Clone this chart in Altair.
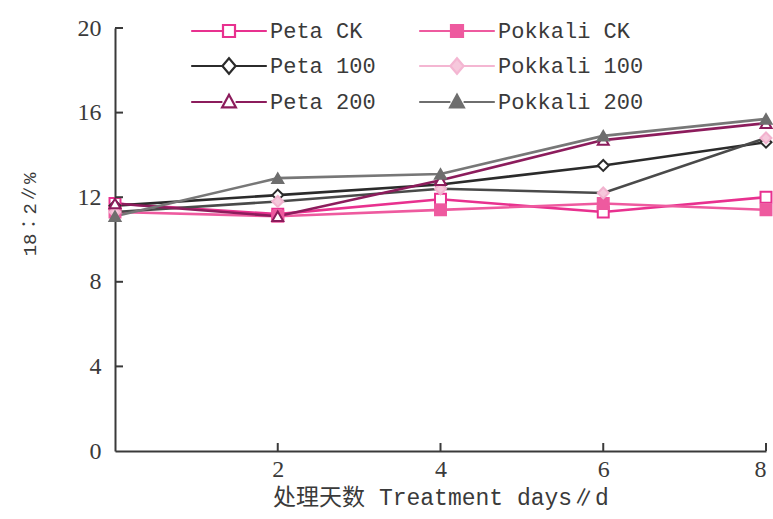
import altair as alt
import pandas as pd

# Treatment days and the 18:2 share (%) for each cultivar / salt level
days = [0, 2, 4, 6, 8]
series_names = ["Peta CK", "Pokkali CK", "Peta 100", "Pokkali 100", "Peta 200", "Pokkali 200"]

peta_ck = [11.7, 11.2, 11.9, 11.3, 12.0]
pokkali_ck = [11.3, 11.1, 11.4, 11.7, 11.4]
peta_100 = [11.6, 12.1, 12.6, 13.5, 14.6]
pokkali_100 = [11.3, 11.8, 12.4, 12.2, 14.8]
peta_200 = [11.7, 11.1, 12.8, 14.7, 15.5]
pokkali_200 = [11.1, 12.9, 13.1, 14.9, 15.7]

x_ticks = [2, 4, 6, 8]
y_ticks = [0, 4, 8, 12, 16, 20]

series_values = [peta_ck, pokkali_ck, peta_100, pokkali_100, peta_200, pokkali_200]
rows = []
for name, vals in zip(series_names, series_values):
    for d, v in zip(days, vals):
        rows.append({"series": name, "day": d, "value": v})
df = pd.DataFrame(rows)

# styling per series
line_colors = ["#e8318f", "#ee5a9f", "#2b2b2b", "#4a4a4a", "#8c1c5c", "#777777"]
marker_strokes = ["#e8318f", "#ee5a9f", "#2b2b2b", "#f2b3cf", "#8c1c5c", "#6e6e6e"]
marker_fills = ["#ffffff", "#ee5a9f", "#ffffff", "#f6c8dc", "#ffffff", "#6e6e6e"]
legend_strokes = ["#e8318f", "#ee5a9f", "#2b2b2b", "#f4b6d2", "#8c1c5c", "#6e6e6e"]
marker_shapes = ["square", "square", "diamond", "diamond", "triangle-up", "triangle-up"]

# legend symbols: a line segment with the marker in the middle
seg = "M-6.3,0H-1.1M1.1,0H6.3"
sq = "M-1,-1H1V1H-1Z"
dia = "M0,-1.3L1.1,0L0,1.3L-1.1,0Z"
tri = "M0,-1.2L1.15,0.9H-1.15Z"
legend_shapes = [seg + sq, seg + sq, seg + dia, seg + dia, seg + tri, seg + tri]

# the legend fills column by column: Peta entries left, Pokkali entries right
legend_order = [0, 2, 4, 1, 3, 5]
lg_names = [series_names[i] for i in legend_order]
lg_shapes = [legend_shapes[i] for i in legend_order]
lg_strokes = [legend_strokes[i] for i in legend_order]
lg_fills = [marker_fills[i] for i in legend_order]

x_scale = alt.Scale(domain=[0, 8], nice=False, zero=False)
y_scale = alt.Scale(domain=[0, 20], nice=False)

serif = "Liberation Serif"
text_color = "#3a3a3a"
axis_color = "#3a3a3a"

base = alt.Chart(df)

lines = base.mark_line(strokeWidth=2.6).encode(
    x=alt.X("day:Q", scale=x_scale, axis=alt.Axis(
        values=x_ticks, format="d", ticks=False, grid=False, domainColor=axis_color, domainWidth=2,
        labelFont=serif, labelFontSize=24, labelColor=text_color, labelPadding=6,
        title="处理天数 Treatment days∥d", titleFont="Liberation Mono, Noto Sans CJK SC",
        titleFontSize=23, titleFontWeight="normal", titleColor=text_color, titlePadding=5)),
    y=alt.Y("value:Q", scale=y_scale, axis=alt.Axis(
        values=y_ticks, format="d", ticks=False, grid=False, domainColor=axis_color, domainWidth=2,
        labelFont=serif, labelFontSize=24, labelColor=text_color, labelPadding=14,
        title="18∶2∥%", titleFont="Liberation Mono, Noto Sans CJK SC", titleFontSize=19,
        titleFontWeight="normal", titleColor=text_color, titleX=-76, titleY=186)),
    stroke=alt.Stroke("series:N", scale=alt.Scale(domain=series_names, range=line_colors), legend=None),
    detail="series:N",
)

points = base.mark_point(size=120, strokeWidth=2, opacity=1).encode(
    x="day:Q",
    y="value:Q",
    shape=alt.Shape("series:N", scale=alt.Scale(domain=series_names, range=marker_shapes), legend=None),
    stroke=alt.Stroke("series:N", scale=alt.Scale(domain=series_names, range=marker_strokes), legend=None),
    fill=alt.Fill("series:N", scale=alt.Scale(domain=series_names, range=marker_fills), legend=None),
)

# inward tick marks on both axes
y_tick_df = pd.DataFrame({"value": y_ticks[1:]})
x_tick_df = pd.DataFrame({"day": x_ticks})
y_tick_marks = alt.Chart(y_tick_df).mark_rule(color=axis_color, strokeWidth=2, opacity=1).encode(
    y="value:Q", x=alt.value(0), x2=alt.value(8)
)
x_tick_marks = alt.Chart(x_tick_df).mark_rule(color=axis_color, strokeWidth=2, opacity=1).encode(
    x="day:Q", y=alt.value(423), y2=alt.value(415)
)

# empty layer that carries the legend
guide = base.mark_point(size=144, opacity=1).transform_filter(alt.datum.day < 0).encode(
    x="day:Q",
    y="value:Q",
    shape=alt.Shape("series:N", scale=alt.Scale(domain=lg_names, range=lg_shapes),
                    legend=alt.Legend(orient="none", legendX=103, legendY=-8, columns=2, title=None,
                                      labelFont="Liberation Mono", labelFontSize=22, labelColor=text_color,
                                      symbolSize=144, symbolStrokeWidth=2.2, symbolOpacity=1,
                                      labelOffset=30, rowPadding=11, columnPadding=38, symbolOffset=0)),
    stroke=alt.Stroke("series:N", scale=alt.Scale(domain=lg_names, range=lg_strokes)),
    fill=alt.Fill("series:N", scale=alt.Scale(domain=lg_names, range=lg_fills)),
)

chart = alt.layer(lines, points, y_tick_marks, x_tick_marks, guide).resolve_scale(
    stroke="independent", fill="independent", shape="independent"
).properties(
    width=651, height=423,
    autosize=alt.AutoSizeParams(type="none"),
    padding={"left": 115, "top": 28, "right": 7, "bottom": 68},
    background="white",
).configure_view(stroke=None)

chart.save("out.html", embed_options={"renderer": "svg", "actions": False})
